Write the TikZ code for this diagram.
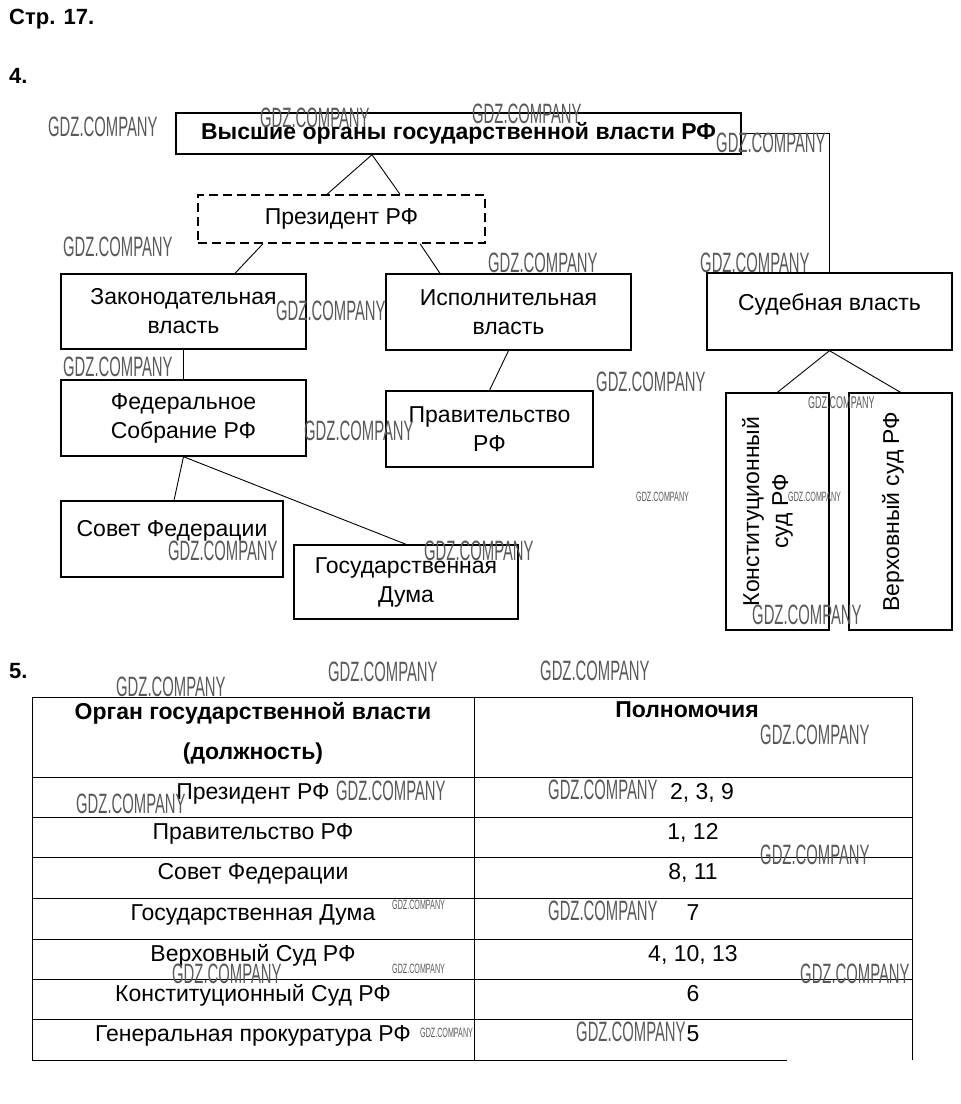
\documentclass[tikz,border=0pt]{standalone}
\usepackage{fontspec}
\setmainfont{Liberation Sans}
\newfontfamily\wmfont[FakeStretch=0.53]{Liberation Sans}

\begin{document}
\begin{tikzpicture}[
  x=1pt, y=-1pt,
  font=\fontsize{23}{29}\selectfont,
  box/.style={draw, line width=1.4pt, inner sep=0pt, align=center},
  dbox/.style={box, dash pattern=on 9pt off 5pt},
  vbox/.style={box, rotate=90},
  conn/.style={line width=0.9pt},
  tbl/.style={line width=0.9pt},
  bold/.style={font=\bfseries\fontsize{23}{26}\selectfont},
  head/.style={font=\bfseries\fontsize{22}{24}\selectfont, inner sep=0pt, anchor=base west},
  cell/.style={inner sep=0pt, anchor=base},
  wm/.style={font=\wmfont\fontsize{28}{28}\selectfont, text=black!65, inner sep=0pt, anchor=west},
  wmm/.style={wm, font=\wmfont\fontsize{17}{17}\selectfont},
  wms/.style={wm, font=\wmfont\fontsize{13.5}{14}\selectfont}
]
\useasboundingbox (0,0) rectangle (961,1104);

% headings
\node[head] (page) at (9,24.5) {Стр. 17.};
\node[head] (task4) at (9,83) {4.};
\node[head] (task5) at (9,678) {5.};

% scheme
\node[box, bold, minimum width=565pt, minimum height=41pt]
  (top) at (458.5,133.5) {Высшие органы государственной власти РФ};
\node[dbox, minimum width=287pt, minimum height=48pt] (pres) at (341.5,219) {Президент РФ};

\node[box, minimum width=245pt, minimum height=75pt] (leg) at (183.5,311.5) {Законодательная\\власть};
\node[box, minimum width=245pt, minimum height=76pt] (exe) at (508.5,312) {Исполнительная\\власть};
\node[box, minimum width=245pt, minimum height=77pt, text depth=19pt] (jud) at (829.5,311.5) {Судебная власть};

\node[box, minimum width=245pt, minimum height=76pt] (fed) at (183.5,418) {Федеральное\\Собрание РФ};
\node[box, minimum width=207pt, minimum height=76pt] (gov) at (489.5,429) {Правительство\\РФ};
\node[box, minimum width=222pt, minimum height=76pt, text depth=22pt] (sf) at (172,539) {Совет Федерации};
\node[box, minimum width=224pt, minimum height=74pt] (duma) at (406,582) {Государственная\\Дума};

\node[vbox, minimum width=237pt, minimum height=103pt, text depth=25pt] (cc) at (777.5,511.5) {Конституционный\\суд РФ};
\node[vbox, minimum width=237pt, minimum height=103pt, text depth=20pt] (sc) at (900.5,511.5) {Верховный суд РФ};

\draw[conn] ([xshift=-86.5pt]top.south) -- ([xshift=-14.5pt]pres.north);
\draw[conn] ([xshift=-86.5pt]top.south) -- ([xshift=58.5pt]pres.north);
\draw[conn] ([xshift=-78.5pt]pres.south) -- ([xshift=51.5pt]leg.north);
\draw[conn] ([xshift=78.5pt]pres.south) -- ([xshift=-68.5pt]exe.north);
\draw[conn] (top.east) -| (jud.north);
\draw[conn] (leg.south) -- (fed.north);
\draw[conn] (exe.south) -- (gov.north);
\draw[conn] (fed.south) -- ([xshift=2pt]sf.north);
\draw[conn] (fed.south) -- (duma.north);
\draw[conn] (jud.south) -- (cc.east);
\draw[conn] (jud.south) -- (sc.east);

% table
\draw[tbl] (32,1060) -- (32,697) -- (912,697) -- (912,1060);
\draw[tbl] (474,697) -- (474,1060);
\draw[tbl] (32,1060) -- (787,1060);
\foreach \ry in {777,817,857,898,939,979,1019}
  \draw[tbl] (32,\ry) -- (912,\ry);

\node[font=\bfseries\fontsize{23}{40}\selectfont, align=center, inner sep=0pt]
  (colorg) at (253,733) {Орган государственной власти\\(должность)};
\node[cell, bold] (colpw) at (687,717) {Полномочия};

\foreach \ry/\org/\pw/\px [count=\k] in {
  777/Президент РФ/{2, 3, 9}/702,
  817/Правительство РФ/{1, 12}/693,
  857/Совет Федерации/{8, 11}/693,
  898/Государственная Дума/7/693,
  939/Верховный Суд РФ/{4, 10, 13}/693,
  979/Конституционный Суд РФ/6/693,
  1019/Генеральная прокуратура РФ/5/693}
{
  \node[cell] (org\k) at (253,\ry+22) {\org};
  \node[cell] (pw\k) at (\px,\ry+22) {\pw};
}

% watermarks
\foreach \wx/\wy [count=\k] in {48/127, 260/118, 472/114, 716/143, 63/247, 488/263,
    700/263, 276/311, 63/367, 304/431, 596/382, 752/615, 168/551, 424/551,
    328/672, 540/671, 116/687, 760/735, 336/791, 76/804, 548/790, 760/855,
    548/911, 172/974, 800/974, 576/1032}
  \node[wm] (wm\k) at (\wx,\wy) {GDZ.COMPANY};
\node[wmm] (wmm1) at (808,403) {GDZ.COMPANY};
\foreach \wx/\wy [count=\k] in {636/497, 788/497, 392/905, 392/969, 420/1033}
  \node[wms] (wms\k) at (\wx,\wy) {GDZ.COMPANY};

\end{tikzpicture}
\end{document}
